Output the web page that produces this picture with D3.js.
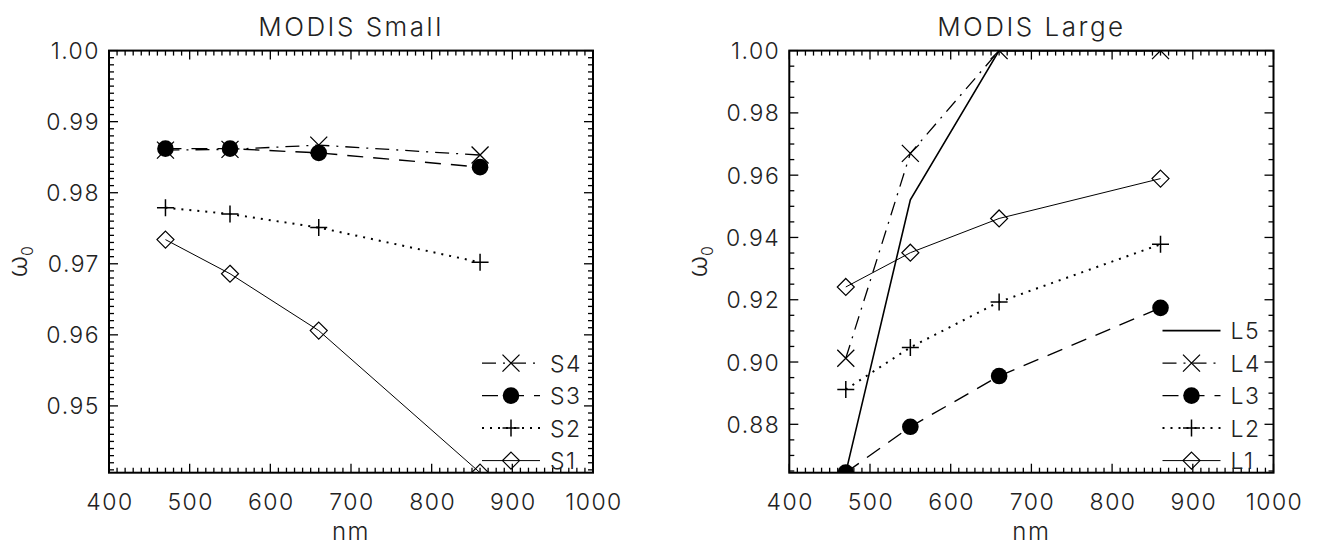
<!DOCTYPE html>
<html>
<head>
<meta charset="utf-8">
<script src="https://cdn.jsdelivr.net/npm/d3@7"></script>
<style>
  body { margin: 0; background: #fff; }
  svg text { font-family: Inter, "DejaVu Sans", sans-serif; font-weight: 300; fill: #222; }
</style>
</head>
<body>
<div id="chart"></div>
<script>
// wavelengths (nm) shared by both panels
var wavelengths = [470, 550, 660, 860];
var xTicks = [400, 500, 600, 700, 800, 900, 1000];

// MODIS Small
var smallS1 = [0.9734, 0.9686, 0.9606, 0.9406];
var smallS2 = [0.9779, 0.9770, 0.9751, 0.9702];
var smallS3 = [0.9862, 0.9862, 0.9856, 0.9836];
var smallS4 = [0.9860, 0.9861, 0.9867, 0.9853];
var smallYTicks = [0.95, 0.96, 0.97, 0.98, 0.99, 1.00];

// MODIS Large
var largeL1 = [0.9241, 0.9351, 0.9461, 0.9589];
var largeL2 = [0.8912, 0.9047, 0.9193, 0.9378];
var largeL3 = [0.8645, 0.8792, 0.8955, 0.9174];
var largeL4 = [0.9012, 0.9670, 1.0000, 1.0000];
var largeL5 = [0.8645, 0.9521, 1.0000, 1.0000];
var largeYTicks = [0.88, 0.90, 0.92, 0.94, 0.96, 0.98, 1.00];

var W = 1320, H = 545;
var svg = d3.select("#chart").append("svg")
    .attr("width", W).attr("height", H);

// line styles, IDL-ish
var styles = {
    solid:   { dash: null, width: 1 },
    thick:   { dash: null, width: 1.6 },
    dotted:  { dash: "2,6", width: 2 },
    dashed:  { dash: "16,10", width: 1.4 },
    dashdot: { dash: "14,7,2,7", width: 1.3 }
};

function drawMarker(g, type, x, y) {
    var s = 8.5;
    if (type === "x") {
        g.append("path").attr("d", "M" + (x - s) + "," + (y - s) + "L" + (x + s) + "," + (y + s) +
            "M" + (x - s) + "," + (y + s) + "L" + (x + s) + "," + (y - s))
            .attr("stroke", "#000").attr("stroke-width", 1.3).attr("fill", "none");
    } else if (type === "plus") {
        g.append("path").attr("d", "M" + (x - s) + "," + y + "H" + (x + s) + "M" + x + "," + (y - s) + "V" + (y + s))
            .attr("stroke", "#000").attr("stroke-width", 1.5).attr("fill", "none");
    } else if (type === "circle") {
        g.append("circle").attr("cx", x).attr("cy", y).attr("r", 8.3).attr("fill", "#000");
    } else if (type === "diamond") {
        g.append("path").attr("d", "M" + x + "," + (y - s) + "L" + (x + s) + "," + y + "L" + x + "," + (y + s) + "L" + (x - s) + "," + y + "Z")
            .attr("stroke", "#000").attr("stroke-width", 1.2).attr("fill", "none");
    }
}

function panel(opt) {
    var left = opt.left, right = opt.right, top = 50.6, bottom = 472.7;
    var x = d3.scaleLinear().domain([400, 1000]).range([left, right]);
    var y = d3.scaleLinear().domain(opt.yDomain).range([bottom, top]);
    var g = svg.append("g");

    var clipId = "clip" + opt.id;
    svg.append("clipPath").attr("id", clipId).append("rect")
        .attr("x", left).attr("y", top).attr("width", right - left).attr("height", bottom - top);

    // ticks on all four sides, pointing inwards
    var xMinor = d3.range(400, 1001, 10);
    var yMinor = d3.range(Math.ceil(opt.yDomain[0] / opt.yMinorStep), Math.floor(opt.yDomain[1] / opt.yMinorStep + 1e-6) + 1)
        .map(function (k) { return k * opt.yMinorStep; });

    var ticks = g.append("g").attr("stroke", "#000").attr("stroke-width", 1.3);
    xMinor.forEach(function (v) {
        var major = xTicks.some(function (t) { return Math.abs(t - v) < 1e-6; });
        var len = major ? 9 : 5;
        ticks.append("line").attr("x1", x(v)).attr("x2", x(v)).attr("y1", bottom).attr("y2", bottom - len);
        ticks.append("line").attr("x1", x(v)).attr("x2", x(v)).attr("y1", top).attr("y2", top + len);
    });
    yMinor.forEach(function (v) {
        var major = opt.yTicks.some(function (t) { return Math.abs(t - v) < 1e-6; });
        var len = major ? 9 : 5;
        ticks.append("line").attr("y1", y(v)).attr("y2", y(v)).attr("x1", left).attr("x2", left + len);
        ticks.append("line").attr("y1", y(v)).attr("y2", y(v)).attr("x1", right).attr("x2", right - len);
    });

    g.append("rect").attr("x", left).attr("y", top).attr("width", right - left).attr("height", bottom - top)
        .attr("fill", "none").attr("stroke", "#000").attr("stroke-width", 2);

    // tick labels
    g.selectAll(".xl").data(xTicks).enter().append("text")
        .attr("x", function (d) { return x(d) + 1; }).attr("y", 510)
        .attr("text-anchor", "middle").style("font-size", "23px").style("letter-spacing", "1.5px")
        .text(function (d) { return d; });
    g.selectAll(".yl").data(opt.yTicks).enter().append("text")
        .attr("x", left - 9).attr("y", function (d) { return y(d) + 8.5; })
        .attr("text-anchor", "end").style("font-size", "23px").style("letter-spacing", "1.5px")
        .text(function (d) { return d3.format(".2f")(d); });

    // titles
    g.append("text").attr("x", (left + right) / 2).attr("y", 36)
        .attr("text-anchor", "middle").style("font-size", "26px").style("letter-spacing", "2.5px")
        .text(opt.title);
    g.append("text").attr("x", (left + right) / 2).attr("y", 540)
        .attr("text-anchor", "middle").style("font-size", "24px").style("letter-spacing", "1.5px").text("nm");
    var yl = g.append("text").attr("transform", "translate(" + (left - 82) + "," + ((top + bottom) / 2) + ") rotate(-90)")
        .attr("text-anchor", "middle").style("font-size", "26px");
    yl.append("tspan").text("ω");
    yl.append("tspan").attr("dy", 6).style("font-size", "16px").text("0");

    // data
    var plot = g.append("g").attr("clip-path", "url(#" + clipId + ")");
    var line = d3.line().x(function (d, i) { return x(wavelengths[i]); }).y(function (d) { return y(d); });
    opt.series.forEach(function (s) {
        var st = styles[s.style];
        plot.append("path").datum(s.values).attr("d", line)
            .attr("fill", "none").attr("stroke", "#000")
            .attr("stroke-width", st.width).attr("stroke-dasharray", st.dash);
        if (s.marker) {
            s.values.forEach(function (v, i) { drawMarker(plot, s.marker, x(wavelengths[i]), y(v)); });
        }
    });

    // legend, first series on top
    var lg = g.append("g");
    var lx0 = right - 111, lx1 = right - 53;
    var n = opt.series.length;
    opt.series.forEach(function (s, i) {
        var ly = 460.6 - (n - 1 - i) * 32.5;
        var st = styles[s.style];
        lg.append("line").attr("x1", lx0).attr("x2", lx1).attr("y1", ly).attr("y2", ly)
            .attr("stroke", "#000").attr("stroke-width", st.width).attr("stroke-dasharray", st.dash);
        if (s.marker) drawMarker(lg, s.marker, (lx0 + lx1) / 2, ly);
        lg.append("text").attr("x", right - 43).attr("y", ly + 8.5)
            .style("font-size", "23px").style("letter-spacing", "1.5px").text(s.name);
    });
}

panel({
    id: "small", left: 109, right: 593, title: "MODIS Small",
    yDomain: [0.9406, 1.0], yTicks: smallYTicks, yMinorStep: 0.001,
    series: [
        { name: "S4", values: smallS4, style: "dashdot", marker: "x" },
        { name: "S3", values: smallS3, style: "dashed", marker: "circle" },
        { name: "S2", values: smallS2, style: "dotted", marker: "plus" },
        { name: "S1", values: smallS1, style: "solid", marker: "diamond" }
    ]
});

panel({
    id: "large", left: 789.3, right: 1273.5, title: "MODIS Large",
    yDomain: [0.86446, 1.0], yTicks: largeYTicks, yMinorStep: 0.005,
    series: [
        { name: "L5", values: largeL5, style: "thick", marker: null },
        { name: "L4", values: largeL4, style: "dashdot", marker: "x" },
        { name: "L3", values: largeL3, style: "dashed", marker: "circle" },
        { name: "L2", values: largeL2, style: "dotted", marker: "plus" },
        { name: "L1", values: largeL1, style: "solid", marker: "diamond" }
    ]
});
</script>
</body>
</html>
